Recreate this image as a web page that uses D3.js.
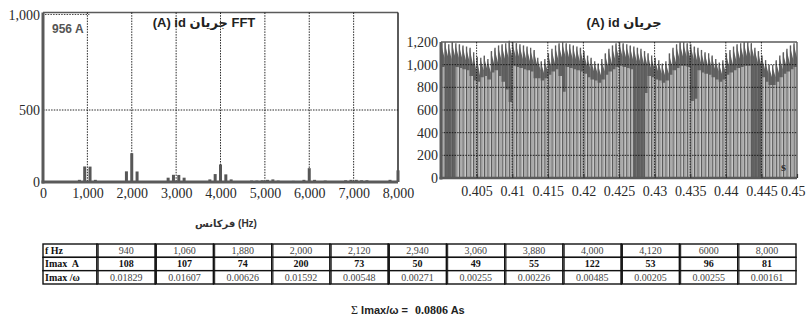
<!DOCTYPE html>
<html><head><meta charset="utf-8">
<script src="https://cdn.jsdelivr.net/npm/d3@7"></script>
<style>body{margin:0;background:#fff}svg{display:block}</style>
</head><body>
<svg id="c" width="808" height="327"></svg>
<script>
// ---------- FFT spectrum (left) ----------
const fftFreq = [820, 940, 1060, 1180, 1880, 2000, 2120, 2820, 2940, 3060, 3180, 3760, 3880, 4000, 4120, 4240,
  4700, 4820, 4940, 5060, 5180, 5300, 5640, 5880, 6000, 6120, 6360, 6820, 6940, 7060, 7180, 7300, 7820, 8000];
const fftAmp = [15, 108, 107, 15, 74, 200, 73, 30, 50, 49, 30, 18, 55, 122, 53, 18,
  10, 10, 12, 15, 18, 10, 8, 15, 96, 15, 10, 12, 15, 15, 12, 12, 15, 81];
const fftXTicks = [0, 1000, 2000, 3000, 4000, 5000, 6000, 7000, 8000];
const fftYTicks = [0, 500, 1000];
const fftGridX = [1000, 2000, 3000, 4000, 5000, 6000, 7000];
const fftGridY = [500];
const fftTitle = "(A) id جریان FFT";
const fftXLabel = "فرکانس (Hz)";
const fftPeakLabel = "956 A";

// ---------- id current waveform (right) ----------
const idPeak = [1190,1200,1180,1200,1190,1180,1170,1160,1150,1110,1070,1060,1080,1050,1120,1150,1170,1180,1190,1210,
  1200,1190,1180,1170,1160,1150,1130,1060,1030,1050,1100,1140,1170,1190,1200,1190,1180,1170,1160,1150,
  1120,1080,1060,1030,1010,1050,1100,1140,1170,1190,1200,1190,1180,1170,1160,1150,1140,1120,1100,1080,
  1060,1040,1010,1030,1100,1150,1180,1200,1200,1190,1180,1160,1150,1130,1110,1100,1080,1050,1020,1040,
  1100,1130,1160,1180,1190,1200,1200,1190,1150,1120,1080,1040,1000,1000,1040,1080,1110,1140,1170,1190];
const idEnd = [1060,1070,1050,1070,1060,1050,1040,1030,1000,930,900,950,960,930,1000,1020,1040,1050,1060,1070,
  1070,1060,1050,1040,1030,1020,1000,950,920,940,980,1010,1040,1060,1070,1060,1050,1040,1030,1020,
  990,960,940,920,900,940,980,1010,1040,1060,1070,1060,1050,1040,1030,1020,1010,990,970,960,
  940,920,900,920,980,1020,1050,1070,1070,1060,1050,1030,1020,1000,990,980,960,940,910,930,
  980,1000,1030,1050,1060,1070,1070,1060,1020,990,960,920,890,890,920,960,990,1010,1040,1060];
const idLow = [980,0,0,0,980,970,960,950,900,860,850,890,900,870,930,950,900,850,780,670,
  990,980,970,960,950,940,880,880,860,880,910,940,960,900,760,980,970,960,950,940,
  920,890,870,860,840,870,910,940,960,980,990,980,970,960,0,0,0,750,900,890,
  870,860,840,860,910,950,970,990,990,980,680,700,950,930,920,910,890,870,850,870,
  910,930,950,970,980,990,990,0,0,0,890,850,820,820,850,890,920,940,960,980];
const timeTicks = [0.405, 0.41, 0.415, 0.42, 0.425, 0.43, 0.435, 0.44, 0.445, 0.45];
const idYTicks = [0, 200, 400, 600, 800, 1000, 1200];
const idTitle = "(A) id جریان";
const timeUnit = "s";

// ---------- harmonic table ----------
const rowLabels = ["f Hz", "Imax  A", "Imax /ω"];
const tableFreq = ["940", "1,060", "1,880", "2,000", "2,120", "2,940", "3,060", "3,880", "4,000", "4,120", "6000", "8,000"];
const tableImax = ["108", "107", "74", "200", "73", "50", "49", "55", "122", "53", "96", "81"];
const tableImaxW = ["0.01829", "0.01607", "0.00626", "0.01592", "0.00548", "0.00271", "0.00255", "0.00226", "0.00485", "0.00205", "0.00255", "0.00161"];
const sumLabel = "Imax/ω =";
const sumValue = "0.0806";
const sumUnit = " As";

const svg = d3.select("#c");
const SERIF = "'Liberation Serif','Times New Roman',serif";
const SANS = "'Liberation Sans',Arial,'DejaVu Sans',sans-serif";
const AXC = "#5a5a5a";

function styleAxis(g) {
  g.select(".domain").remove();
  g.selectAll("text").attr("font-family", SERIF).attr("font-size", 14).attr("fill", "#2a2a2a");
  g.selectAll("line").attr("stroke", AXC);
}

// ================= LEFT: FFT =================
const xF = d3.scaleLinear().domain([0, 8000]).range([43, 398]);
const yF = d3.scaleLinear().domain([0, 500, 1000]).range([182, 110, 15]);
const topF = 12.5;

const gF = svg.append("g");
gF.append("line").attr("x1", xF(0)).attr("x2", xF(8000)).attr("y1", topF).attr("y2", topF).attr("stroke", AXC).attr("stroke-width", 1.6);
gF.append("line").attr("x1", xF(8000)).attr("x2", xF(8000)).attr("y1", topF).attr("y2", yF(0)).attr("stroke", "#333").attr("stroke-width", 1.6);
gF.selectAll(".gx").data(fftGridX).join("line")
  .attr("x1", d => xF(d)).attr("x2", d => xF(d)).attr("y1", topF).attr("y2", yF(0))
  .attr("stroke", "#111").attr("stroke-width", 0.9).attr("stroke-dasharray", "1.5,1.2");
gF.selectAll(".gy").data(fftGridY).join("line")
  .attr("x1", xF(0)).attr("x2", xF(8000)).attr("y1", d => yF(d)).attr("y2", d => yF(d))
  .attr("stroke", "#111").attr("stroke-width", 0.9).attr("stroke-dasharray", "1.5,1.2");
gF.append("line").attr("x1", xF(0) + 2).attr("x2", xF(1000) + 2).attr("y1", yF(1000) - 0.5).attr("y2", yF(1000) - 0.5)
  .attr("stroke", "#333").attr("stroke-width", 0.9).attr("stroke-dasharray", "1.5,1.2");
gF.append("text").attr("x", 52).attr("y", 32.5).text(fftPeakLabel)
  .attr("font-family", SANS).attr("font-weight", "bold").attr("font-size", 12).attr("fill", "#555");
gF.selectAll(".bar").data(fftFreq).join("rect")
  .attr("x", d => xF(d) - 1.5).attr("width", 3)
  .attr("y", (d, i) => yF(fftAmp[i])).attr("height", (d, i) => yF(0) - yF(fftAmp[i]))
  .attr("fill", "#575757");
gF.append("line").attr("x1", xF(0)).attr("x2", xF(0)).attr("y1", topF).attr("y2", yF(0) + 1.5).attr("stroke", AXC).attr("stroke-width", 3);
gF.append("line").attr("x1", xF(0) - 1.5).attr("x2", xF(8000)).attr("y1", yF(0)).attr("y2", yF(0)).attr("stroke", AXC).attr("stroke-width", 3);
gF.append("g").attr("transform", `translate(0,${yF(0)})`)
  .call(d3.axisBottom(xF).tickValues(fftXTicks).tickFormat(d3.format(",")).tickSize(0).tickPadding(6))
  .call(styleAxis);
gF.append("g").attr("transform", `translate(${xF(0)},0)`)
  .call(d3.axisLeft(yF).tickValues(fftYTicks).tickFormat(d3.format(",")).tickSize(0).tickPadding(3))
  .call(styleAxis);
gF.append("text").attr("x", 204).attr("y", 27).attr("text-anchor", "middle").text(fftTitle)
  .attr("font-family", SANS).attr("font-weight", "bold").attr("font-size", 13).attr("fill", "#222");
gF.append("text").attr("x", 226).attr("y", 227).attr("text-anchor", "middle").text(fftXLabel)
  .attr("font-family", SANS).attr("font-weight", "bold").attr("font-size", 10).attr("fill", "#333");

// ================= RIGHT: waveform =================
const xT = d3.scaleLinear().domain([0.4, 0.45]).range([441, 797]);
const yT = d3.scaleLinear().domain([0, 1200]).range([178, 42]);
const xB = d3.scaleBand().domain(d3.range(idPeak.length)).range([xT(0.4), xT(0.45)]);
const w = xB.bandwidth();
const gT = svg.append("g");

gT.selectAll(".lc").data(idEnd).join("rect")
  .attr("x", (d, i) => xB(i) + 1.3).attr("width", w - 1.7)
  .attr("y", d => yT(d)).attr("height", d => yT(0) - yT(d))
  .attr("fill", "#aaaaaa");
gT.selectAll(".dt").data(idPeak).join("path")
  .attr("d", (d, i) => {
    const x0 = xB(i), x1 = xB(i) + w;
    return `M${x0},${yT(d)}L${x1},${yT(idEnd[i])}L${x1},${yT(idLow[i])}L${x0},${yT(idLow[i])}Z`;
  })
  .attr("fill", "#626262");
gT.selectAll(".vl").data(idPeak).join("line")
  .attr("x1", (d, i) => xB(i) + 0.65).attr("x2", (d, i) => xB(i) + 0.65)
  .attr("y1", yT(0)).attr("y2", d => yT(d))
  .attr("stroke", "#5c5c5c").attr("stroke-width", 1.3);

gT.append("line").attr("x1", xT(0.4)).attr("x2", xT(0.45)).attr("y1", yT(1200)).attr("y2", yT(1200)).attr("stroke", AXC).attr("stroke-width", 1.4);
gT.append("line").attr("x1", xT(0.45)).attr("x2", xT(0.45)).attr("y1", yT(1200)).attr("y2", yT(0)).attr("stroke", AXC).attr("stroke-width", 1.4);
gT.selectAll(".gx").data(timeTicks.slice(0, -1)).join("line")
  .attr("x1", d => xT(d)).attr("x2", d => xT(d)).attr("y1", yT(1200)).attr("y2", yT(0))
  .attr("stroke", "#111").attr("stroke-width", 0.9).attr("stroke-dasharray", "1.5,1.2");
gT.selectAll(".gy").data(idYTicks.slice(1, -1)).join("line")
  .attr("x1", xT(0.4)).attr("x2", xT(0.45)).attr("y1", d => yT(d)).attr("y2", d => yT(d))
  .attr("stroke", "#111").attr("stroke-width", 0.9).attr("stroke-dasharray", "1.5,1.2");
gT.append("line").attr("x1", xT(0.4)).attr("x2", xT(0.4)).attr("y1", yT(1200)).attr("y2", yT(0) + 1.5).attr("stroke", AXC).attr("stroke-width", 3);
gT.append("line").attr("x1", xT(0.4) - 1.5).attr("x2", xT(0.45)).attr("y1", yT(0)).attr("y2", yT(0)).attr("stroke", AXC).attr("stroke-width", 2.5);
gT.append("g").attr("transform", `translate(0,${yT(0)})`)
  .call(d3.axisBottom(xT).tickValues(timeTicks).tickFormat(d => String(+d.toFixed(3))).tickSizeInner(-4).tickSizeOuter(0).tickPadding(8))
  .call(styleAxis)
  .call(g => g.selectAll("line").attr("stroke", "#333").attr("stroke-width", 1.2))
  .call(g => g.selectAll(".tick").filter(d => d === 0.45).select("text").attr("text-anchor", "end").attr("dx", 8));
gT.append("g").attr("transform", `translate(${xT(0.4)},0)`)
  .call(d3.axisLeft(yT).tickValues(idYTicks).tickFormat(d3.format(",")).tickSize(0).tickPadding(3))
  .call(styleAxis);
gT.append("text").attr("x", 781).attr("y", 171).text(timeUnit)
  .attr("font-family", SERIF).attr("font-weight", "bold").attr("font-size", 13).attr("fill", "#333");
gT.append("text").attr("x", 624).attr("y", 27).attr("text-anchor", "middle").text(idTitle)
  .attr("font-family", SANS).attr("font-weight", "bold").attr("font-size", 13).attr("fill", "#222");

// ================= TABLE =================
const tableRows = [tableFreq, tableImax, tableImaxW];
const rowY = d3.scaleBand().domain(rowLabels).range([244, 284]);
const colX = d3.scaleBand().domain(d3.range(tableFreq.length)).range([97, 796]);
const labelX0 = 43;
const gTab = svg.append("g");
const rowColor = ["#444", "#111", "#444"];
rowLabels.forEach((lab, r) => {
  const y0 = rowY(lab), h = rowY.bandwidth();
  gTab.append("rect").attr("x", labelX0).attr("y", y0).attr("width", colX(0) - labelX0).attr("height", h)
    .attr("fill", "#fff").attr("stroke", "#111").attr("stroke-width", 1.4);
  gTab.append("text").attr("x", labelX0 + 2).attr("y", y0 + h / 2 + 3.3).text(lab)
    .attr("font-family", SERIF).attr("font-weight", "bold").attr("font-size", 10).attr("fill", "#111")
    .style("white-space", "pre");
  tableRows[r].forEach((v, c) => {
    gTab.append("rect").attr("x", colX(c)).attr("y", y0).attr("width", colX.bandwidth()).attr("height", h)
      .attr("fill", "#fff").attr("stroke", "#111").attr("stroke-width", 1.4);
    gTab.append("line").attr("x1", colX(c) + 1.2).attr("x2", colX(c) + 1.2).attr("y1", y0).attr("y2", y0 + h)
      .attr("stroke", "#111").attr("stroke-width", 1);
    gTab.append("text").attr("x", colX(c) + colX.bandwidth() / 2).attr("y", y0 + h / 2 + 3.3)
      .attr("text-anchor", "middle").text(v)
      .attr("font-family", SERIF).attr("font-size", 10).attr("fill", rowColor[r])
      .attr("font-weight", r === 1 ? "bold" : "normal");
  });
});

const sumT = svg.append("text").attr("x", 408).attr("y", 314).attr("text-anchor", "end").attr("fill", "#222");
sumT.append("tspan").text("Σ ").attr("font-family", SERIF).attr("font-size", 12);
sumT.append("tspan").text(sumLabel).attr("font-family", SANS).attr("font-weight", "bold").attr("font-size", 11);
const sumV = svg.append("text").attr("x", 415).attr("y", 314).attr("fill", "#222");
sumV.append("tspan").text(sumValue).attr("font-family", SERIF).attr("font-weight", "bold").attr("font-size", 12);
sumV.append("tspan").text(sumUnit).attr("font-family", SANS).attr("font-weight", "bold").attr("font-size", 11)
  .style("white-space", "pre");
</script>
</body></html>
